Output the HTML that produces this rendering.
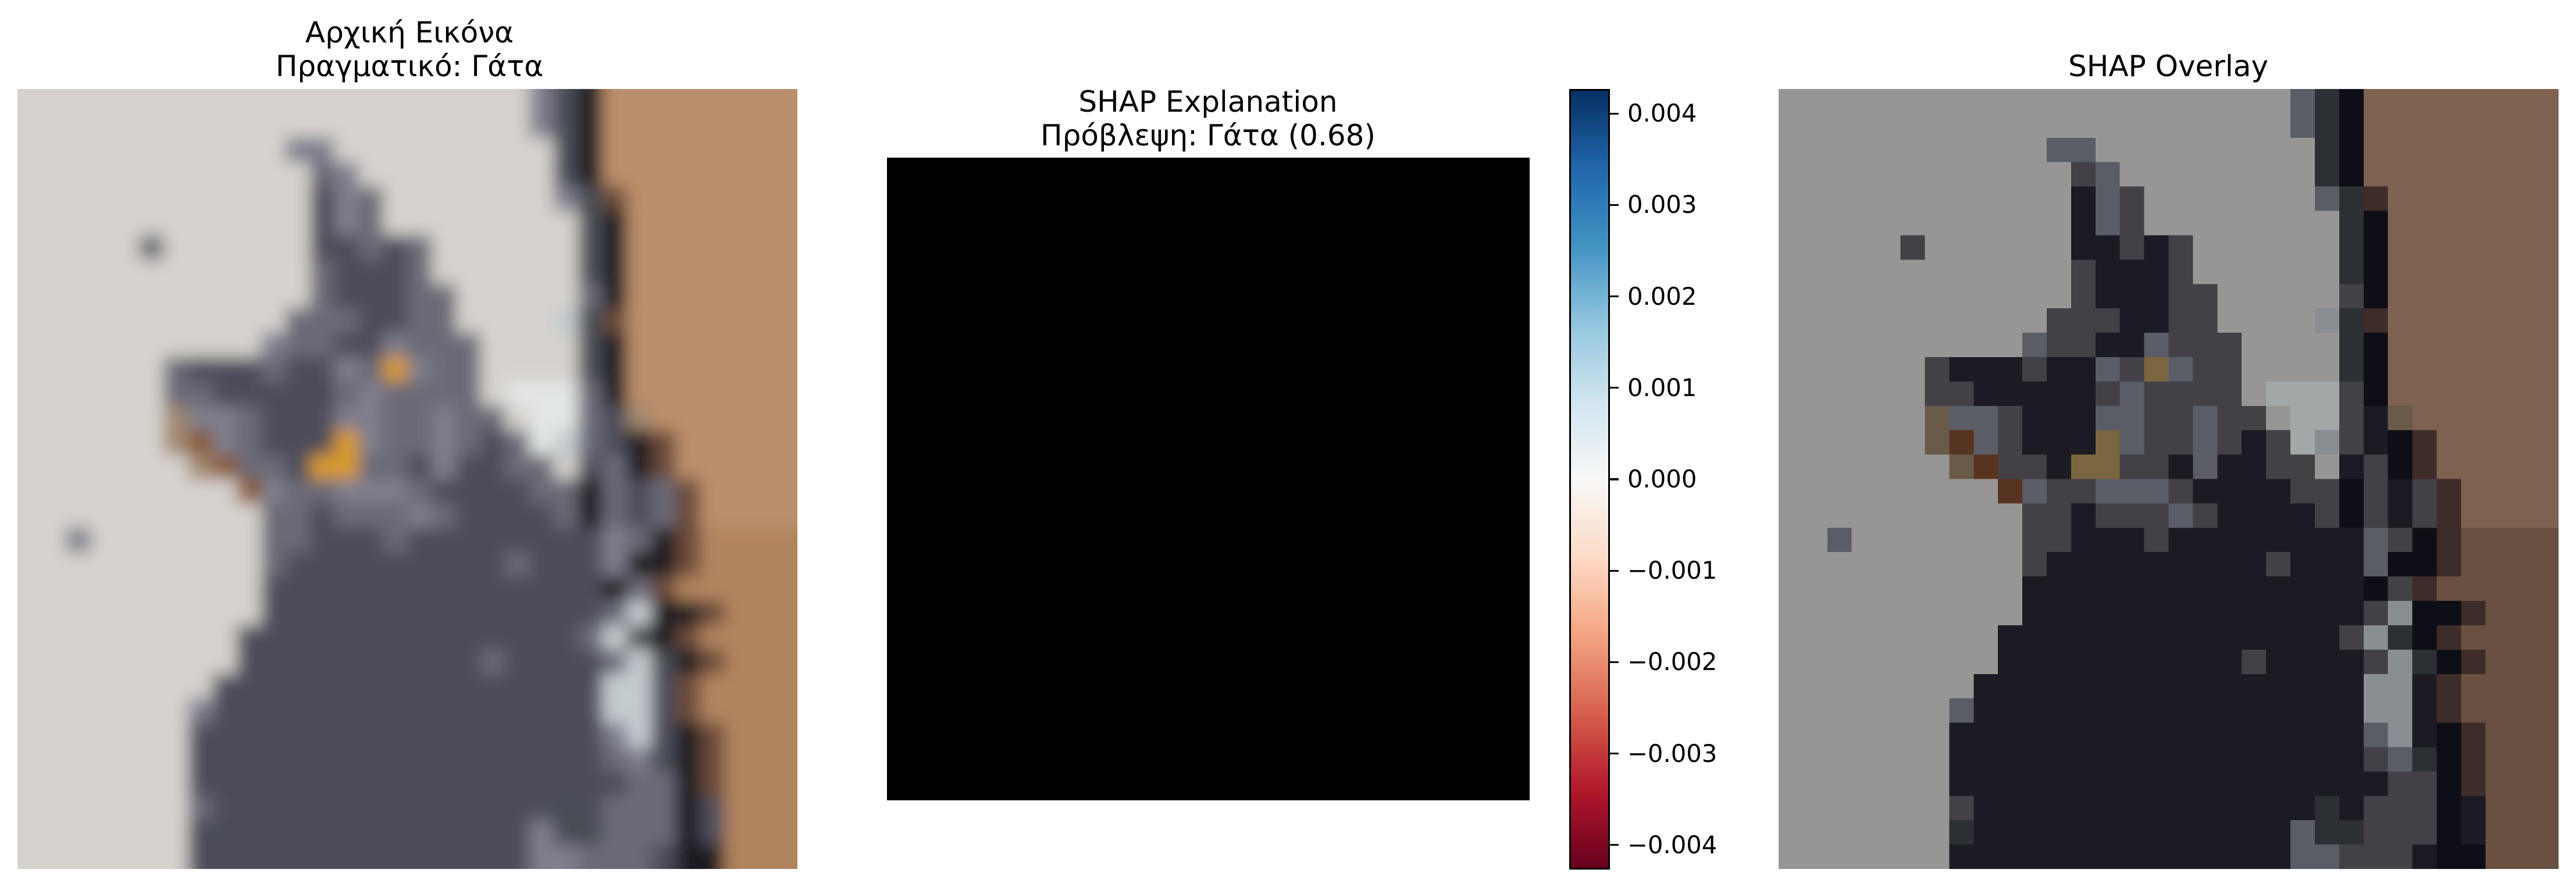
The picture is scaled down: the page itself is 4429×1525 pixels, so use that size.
<!DOCTYPE html>
<html><head><meta charset="utf-8">
<style>
html,body{margin:0;padding:0;background:#fff;}
body{width:4429px;height:1525px;position:relative;overflow:hidden;font-family:"DejaVu Sans","Liberation Sans",sans-serif;}
.t{position:absolute;font-size:50px;color:#000;white-space:nowrap;transform:translateX(-50%);line-height:1;}
.tick{position:absolute;font-size:41.7px;color:#000;white-space:nowrap;line-height:1;}
</style></head>
<body>
<div class="t" style="left:704px;top:31px;">Αρχική Εικόνα</div>
<div class="t" style="left:704px;top:89px;">Πραγματικό: Γάτα</div>
<div style="position:absolute;left:30px;top:153px;width:1341px;height:1341px;overflow:hidden;">
<svg id="orig" width="1341" height="1341" viewBox="0 0 1341 1341"><defs><filter id="bl" x="-5%" y="-5%" width="110%" height="110%"><feGaussianBlur stdDeviation="14"/></filter></defs><g id="origg" filter="url(#bl)"></g></svg>
</div>
<div class="t" style="left:2077px;top:150px;">SHAP Explanation</div>
<div class="t" style="left:2077px;top:208px;">Πρόβλεψη: Γάτα (0.68)</div>
<div style="position:absolute;left:1525px;top:271px;width:1105px;height:1105px;background:#000;"></div>
<div style="position:absolute;left:2698px;top:153px;width:64px;height:1336px;border:3px solid #000;background:linear-gradient(to bottom,#053061 0%,#2166ac 10%,#4393c3 20%,#92c5de 30%,#d1e5f0 40%,#f7f7f7 50%,#fddbc7 60%,#f4a582 70%,#d6604d 80%,#b2182b 90%,#67001f 100%);"></div>
<div id="ticks"></div>
<div class="t" style="left:3728px;top:89px;">SHAP Overlay</div>
<div style="position:absolute;left:3058px;top:153px;width:1341px;height:1341px;">
<svg width="1341" height="1341" viewBox="0 0 1341 1341" shape-rendering="crispEdges"><g id="ovg"></g></svg>
</div>
<script>
const cbTicks=[0.004,0.003,0.002,0.001,0,-0.001,-0.002,-0.003,-0.004];
const cbMin=-0.00425, cbMax=0.00425;
const grid=[
".....................sdkbbbbbbbb",
".....................sdkbbbbbbbb",
"...........ss.........dkbbbbbbbb",
"............ms........dkbbbbbbbb",
"............csm.......sdxbbbbbbb",
"............csm........dkbbbbbbb",
".....m......ccmcm......dkbbbbbbb",
"............mcccm......dkbbbbbbb",
"............mcccmm.....mkbbbbbbb",
"...........mmmccmm....qdxbbbbbbb",
"..........smmccsmmm....dkbbbbbbb",
"......mcccmccsmesmm....dkbbbbbbb",
"......mmcccccmsmmmm.pppmkbbbbbbb",
"......hssmcccssmmsmm.ppmchbbbbbb",
"......hrsmcccesmmsmcmpqmckxbbbbb",
".......hrmmceemmcsccmm.cmkxbbbbb",
".........rsmmsssmccccmmkmcmxbbbb",
"..........mmcmmmsmccccmkmcmxbbbb",
"..s.......mmcccmccccccccsmkxBBBB",
"..........mcccccccccmcccskkxBBBB",
"..........cccccccccccccckmxBBBBB",
"..........ccccccccccccccmqkkxBBB",
".........ccccccccccccccmqdkxBBBB",
".........ccccccccccmccccmqdkxBBB",
"........ccccccccccccccccqqcxBBBB",
".......sccccccccccccccccqqcxBBBB",
".......cccccccccccccccccsqckxBBB",
".......cccccccccccccccccmsdkxBBB",
".......ccccccccccccccccccmmkxBBB",
".......mccccccccccccccdcmmmkcBBB",
".......dcccccccccccccsddmmmkcBBB",
".......ccccccccccccccssmmmckkBBB"
];
const ovPal={'.':'#989694','p':'#a2a8a8','b':'#7e6250','B':'#6a5040','k':'#0e0e16','d':'#2c2f33','c':'#1c1a22','m':'#434046','s':'#5a5c66','e':'#7a6640','r':'#563420','q':'#888e92','x':'#3e2c2a','h':'#6a5a4a'};
const orPal={'.':'#d6d1cd','p':'#e2e6e4','b':'#bb8f6c','B':'#b0845f','k':'#1a1a22','d':'#4a4e54','c':'#4e4e5a','m':'#6a6a76','s':'#7e7e8c','e':'#d89a2c','r':'#8a5a30','q':'#c4ccd0','x':'#6a4a3a','h':'#a08870'};
const NS='http://www.w3.org/2000/svg';
const S=1341, n=32, cs=S/n;
function draw(gid,pal,ext){
  const g=document.getElementById(gid);
  grid.forEach((row,r)=>{
    const chars=Array.from(row);
    for(let c=0;c<n;c++){
      const ch=chars[c]||'B';
      const rc=document.createElementNS(NS,'rect');
      rc.setAttribute('x',(c*cs-(ext&&c==0?30:0)).toFixed(2));
      rc.setAttribute('y',(r*cs-(ext&&r==0?30:0)).toFixed(2));
      rc.setAttribute('width',(cs+1+(ext&&(c==0||c==n-1)?30:0)).toFixed(2));
      rc.setAttribute('height',(cs+1+(ext&&(r==0||r==n-1)?30:0)).toFixed(2));
      rc.setAttribute('fill',pal[ch]||pal['.']);
      
      
      g.appendChild(rc);
    }
  });
}
draw('ovg',ovPal,false);
draw('origg',orPal,true);
const top0=153+3, h=1336;
function cy(v){return top0+(cbMax-v)/(cbMax-cbMin)*h;}
const tk=document.getElementById('ticks');
cbTicks.forEach(v=>{
  const y=cy(v);
  const ln=document.createElement('div');
  
  
  ln.style.cssText='position:absolute;left:2768px;width:15px;height:3.3px;background:#000;top:'+(y-1.65)+'px;';
  tk.appendChild(ln);
  const lb=document.createElement('div');
  lb.className='tick';
  
  
  lb.textContent=(v<0?'\u2212':'')+Math.abs(v).toFixed(3);
  lb.style.left='2798px';
  lb.style.top=(y-21)+'px';
  tk.appendChild(lb);
});
</script>
</body></html>
